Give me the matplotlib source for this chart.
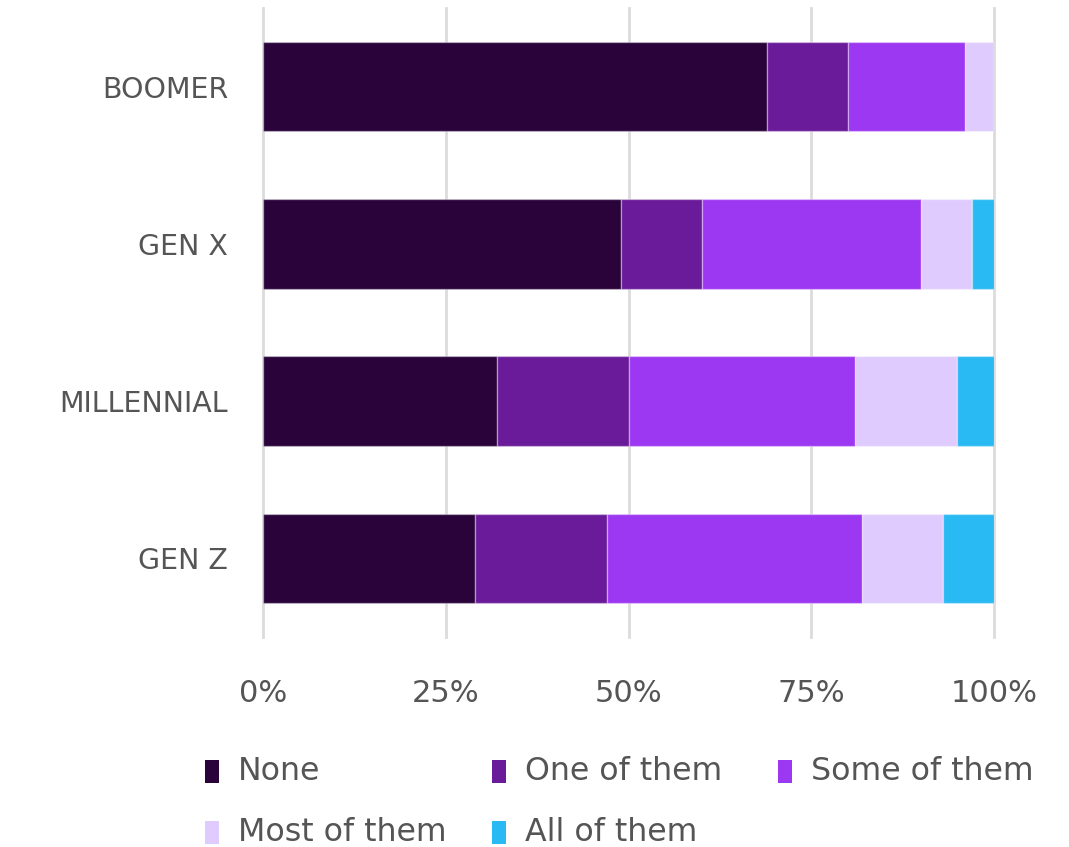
import matplotlib
matplotlib.use("Agg")
import matplotlib.pyplot as plt
from matplotlib.patches import Rectangle
import numpy as np

# Share of respondents (%) by generation
generations = ["BOOMER", "GEN X", "MILLENNIAL", "GEN Z"]
series_names = ["None", "One of them", "Some of them", "Most of them", "All of them"]
none_vals = [69, 49, 32, 29]
one_vals = [11, 11, 18, 18]
some_vals = [16, 30, 31, 35]
most_vals = [4, 7, 14, 11]
all_vals = [0, 3, 5, 7]
x_ticks = [0, 25, 50, 75, 100]
x_tick_labels = ["0%", "25%", "50%", "75%", "100%"]

colors = ["#2a033b", "#6a1b9a", "#9c37f2", "#e0cbfe", "#29b9f3"]
text_color = "#555555"

plt.rcParams["font.family"] = ["DejaVu Sans"]

fig = plt.figure(figsize=(10.69, 8.47), dpi=100)
ax = fig.add_axes([263 / 1069, 1 - 637 / 847, (994 - 263) / 1069, (637 - 8) / 847])

y = np.arange(len(generations))
left = np.zeros(len(generations))
for vals, color in zip([none_vals, one_vals, some_vals, most_vals, all_vals], colors):
    vals = np.array(vals, dtype=float)
    ax.barh(y, vals, left=left, height=0.57, color=color,
            edgecolor=(1, 1, 1, 0.35), linewidth=1, zorder=3)
    left += vals

ax.set_xlim(0, 100)
ax.set_ylim(3.5, -0.5)
ax.set_xticks(x_ticks)
ax.set_xticklabels(x_tick_labels)
ax.set_yticks(y)
ax.set_yticklabels(generations)
ax.grid(axis="x", color="#dcdcdc", linewidth=2, zorder=0)
ax.grid(axis="y", visible=False)
for gl in ax.get_xgridlines():
    gl.set_clip_on(False)
for sp in ax.spines.values():
    sp.set_visible(False)
ax.tick_params(axis="x", length=0, pad=30, labelsize=22, labelcolor=text_color)
ax.tick_params(axis="y", length=0, pad=25, labelsize=20.5, labelcolor=text_color)

# Legend laid out on a fixed grid
W, H = 1069, 847
legend_pos = [(205, 771), (492, 771), (778, 771), (205, 832), (492, 832)]
for name, color, (px, py) in zip(series_names, colors, legend_pos):
    fig.patches.append(Rectangle((px / W, 1 - (py + 12) / H), 14 / W, 23 / H,
                                 transform=fig.transFigure, facecolor=color,
                                 edgecolor="none"))
    fig.text((px + 33) / W, 1 - py / H, name, fontsize=22.8, color=text_color,
             ha="left", va="center")

fig.savefig("out.png", dpi=100, facecolor="white")
